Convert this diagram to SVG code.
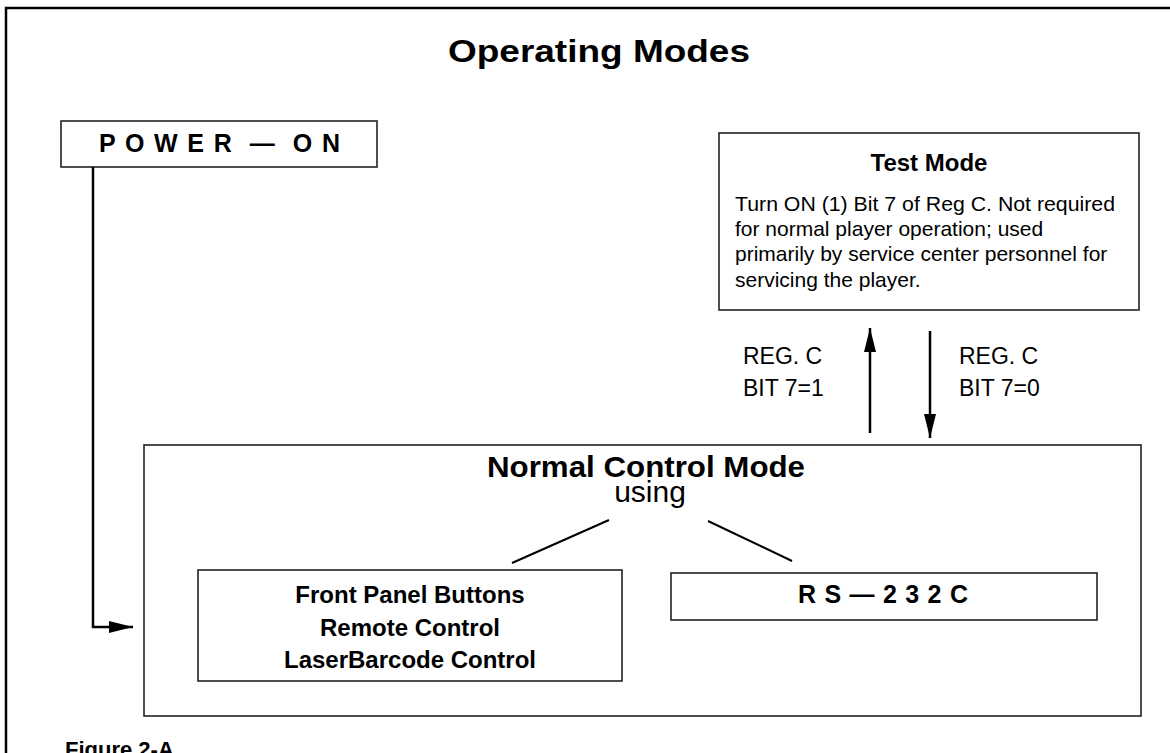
<svg xmlns="http://www.w3.org/2000/svg" width="1170" height="753" viewBox="0 0 1170 753">
<style>
  .box { fill: #fff; stroke: #222; stroke-width: 1.6; }
  .b { font-family: "Liberation Sans", Arial, sans-serif; font-weight: bold; fill: #000; }
  .r { font-family: "Liberation Sans", Arial, sans-serif; fill: #000; }
  .conn { fill: none; stroke: #000; stroke-width: 2.5; }
  .thin { fill: none; stroke: #000; stroke-width: 2; }
</style>
<defs>
  <marker id="ah" viewBox="0 0 24 12" refX="24" refY="6" markerWidth="24" markerHeight="12" markerUnits="userSpaceOnUse" orient="auto">
    <path d="M0,0 L24,6 L0,12 Z" fill="#000"/>
  </marker>
</defs>
<rect width="1170" height="753" fill="#fff"/>
<path d="M6,753 V8 H1170" fill="none" stroke="#000" stroke-width="2.5"/>
<text class="b" x="599" y="62" font-size="31" text-anchor="middle" textLength="302" lengthAdjust="spacingAndGlyphs">Operating Modes</text>

<g id="power-on">
  <rect class="box" x="61" y="121" width="316" height="46"/>
  <text class="b" x="99" y="152" font-size="25" textLength="241" lengthAdjust="spacing" style="white-space:pre">P O W E R  —  O N</text>
</g>

<g id="test-mode">
  <rect class="box" x="719" y="133" width="420" height="177"/>
  <text class="b" x="929" y="171" font-size="24" text-anchor="middle">Test Mode</text>
  <text class="r" x="735" y="211" font-size="21" textLength="380" lengthAdjust="spacingAndGlyphs">Turn ON (1) Bit 7 of Reg C. Not required</text>
  <text class="r" x="735" y="236" font-size="21">for normal player operation; used</text>
  <text class="r" x="735" y="261" font-size="21">primarily by service center personnel for</text>
  <text class="r" x="735" y="287" font-size="21">servicing the player.</text>
</g>

<g id="normal-control-mode">
  <rect class="box" x="144" y="445" width="997" height="271"/>
  <text class="b" x="646" y="477" font-size="30" text-anchor="middle" textLength="318" lengthAdjust="spacingAndGlyphs">Normal Control Mode</text>
  <text class="r" x="650" y="502" font-size="30" text-anchor="middle">using</text>
</g>

<g id="front-panel">
  <rect class="box" x="198" y="570" width="424" height="111"/>
  <text class="b" x="410" y="603" font-size="24" text-anchor="middle">Front Panel Buttons</text>
  <text class="b" x="410" y="636" font-size="24" text-anchor="middle">Remote Control</text>
  <text class="b" x="410" y="668" font-size="24" text-anchor="middle">LaserBarcode Control</text>
</g>

<g id="rs232c">
  <rect class="box" x="671" y="573" width="426" height="47"/>
  <text class="b" x="798" y="603" font-size="25" textLength="170" lengthAdjust="spacing">R S — 2 3 2 C</text>
</g>

<g id="labels">
  <text class="r" x="743" y="364" font-size="23">REG. C</text>
  <text class="r" x="743" y="396" font-size="23">BIT 7=1</text>
  <text class="r" x="959" y="364" font-size="23">REG. C</text>
  <text class="r" x="959" y="396" font-size="23">BIT 7=0</text>
  <text class="b" x="65" y="757" font-size="22">Figure 2-A</text>
</g>

<g id="connectors">
  <path class="conn" d="M93,167 V627 H133" marker-end="url(#ah)"/>
  <path class="conn" d="M870,433 V328" marker-end="url(#ah)"/>
  <path class="conn" d="M930,331 V438" marker-end="url(#ah)"/>
  <path class="thin" d="M512,563 L609,520"/>
  <path class="thin" d="M708,521 L792,561"/>
</g>
</svg>
